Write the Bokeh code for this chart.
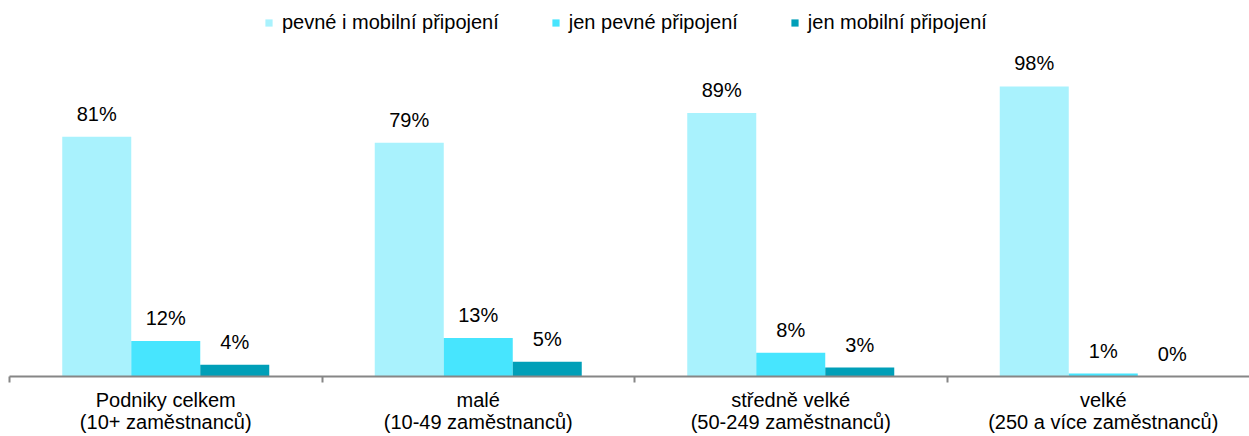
from bokeh.plotting import figure
from bokeh.models import ColumnDataSource, FixedTicker, Legend, LegendItem
from bokeh.core.properties import value
from bokeh.embed import file_html
from bokeh.resources import INLINE

categories = ["Podniky celkem\n(10+ zaměstnanců)", "malé\n(10-49 zaměstnanců)",
              "středně velké\n(50-249 zaměstnanců)", "velké\n(250 a více zaměstnanců)"]
series_names = ["pevné i mobilní připojení", "jen pevné připojení", "jen mobilní připojení"]
pevne_i_mobilni = [81, 79, 89, 98]
jen_pevne = [12, 13, 8, 1]
jen_mobilni = [4, 5, 3, 0]
colors = ["#A9F2FD", "#47E5FE", "#009FB8"]

FONT = "Liberation Sans"
SCALE = 2.96  # px per percent
FRAME_H = 376
LEFT = 9
W, H = 1249, 436
UNIT = 312.5

p = figure(width=W, height=H, output_backend="svg", toolbar_location=None,
           x_range=(0, (W - LEFT) / UNIT), y_range=(0, FRAME_H / SCALE),
           min_border_top=0, min_border_left=LEFT, min_border_right=0,
           min_border_bottom=H - FRAME_H)
p.outline_line_color = None
p.xgrid.visible = False
p.ygrid.visible = False
p.yaxis.visible = False
p.background_fill_color = "white"

centers = [i + 0.5 for i in range(len(categories))]
bw = 69 / UNIT
offsets = [-bw, 0, bw]
all_series = [pevne_i_mobilni, jen_pevne, jen_mobilni]

renderers = []
for vals, off, col in zip(all_series, offsets, colors):
    src = ColumnDataSource(dict(x=[c + off for c in centers], top=vals,
                                lab=[f"{v}%" for v in vals]))
    r = p.vbar(x="x", top="top", bottom=0, width=bw, source=src,
               fill_color=col, line_color=None)
    renderers.append(r)
    p.text(x="x", y="top", text="lab", source=src, text_align="center",
           text_baseline="alphabetic", y_offset=-23, text_font=value(FONT),
           text_font_size="20px", text_color="#000000")

legend = Legend(items=[LegendItem(label=n, renderers=[r]) for n, r in zip(series_names, renderers)],
                location=(264 - LEFT, FRAME_H - 34), orientation="horizontal")
legend.label_text_font = FONT
legend.label_text_font_size = "20px"
legend.label_text_color = "#000000"
legend.glyph_width = 9
legend.glyph_height = 9
legend.label_standoff = 9
legend.spacing = 52
legend.margin = 0
legend.padding = 0
legend.background_fill_alpha = 0
legend.border_line_alpha = 0
p.add_layout(legend)

ax = p.xaxis[0]
ax.ticker = FixedTicker(ticks=centers, minor_ticks=[0, 1, 2, 3, 4])
ax.major_label_overrides = {c: lab for c, lab in zip(centers, categories)}
ax.major_tick_out = 0
ax.major_tick_in = 0
ax.minor_tick_out = 6
ax.minor_tick_in = 0
ax.minor_tick_line_color = "#868686"
ax.minor_tick_line_width = 2
ax.axis_line_color = "#868686"
ax.axis_line_width = 2
ax.major_label_text_font = FONT
ax.major_label_text_font_size = "20px"
ax.major_label_text_color = "#000000"
ax.major_label_standoff = 6
ax.major_label_text_line_height = 1.0

open("out.html", "w").write(file_html(p, INLINE))
